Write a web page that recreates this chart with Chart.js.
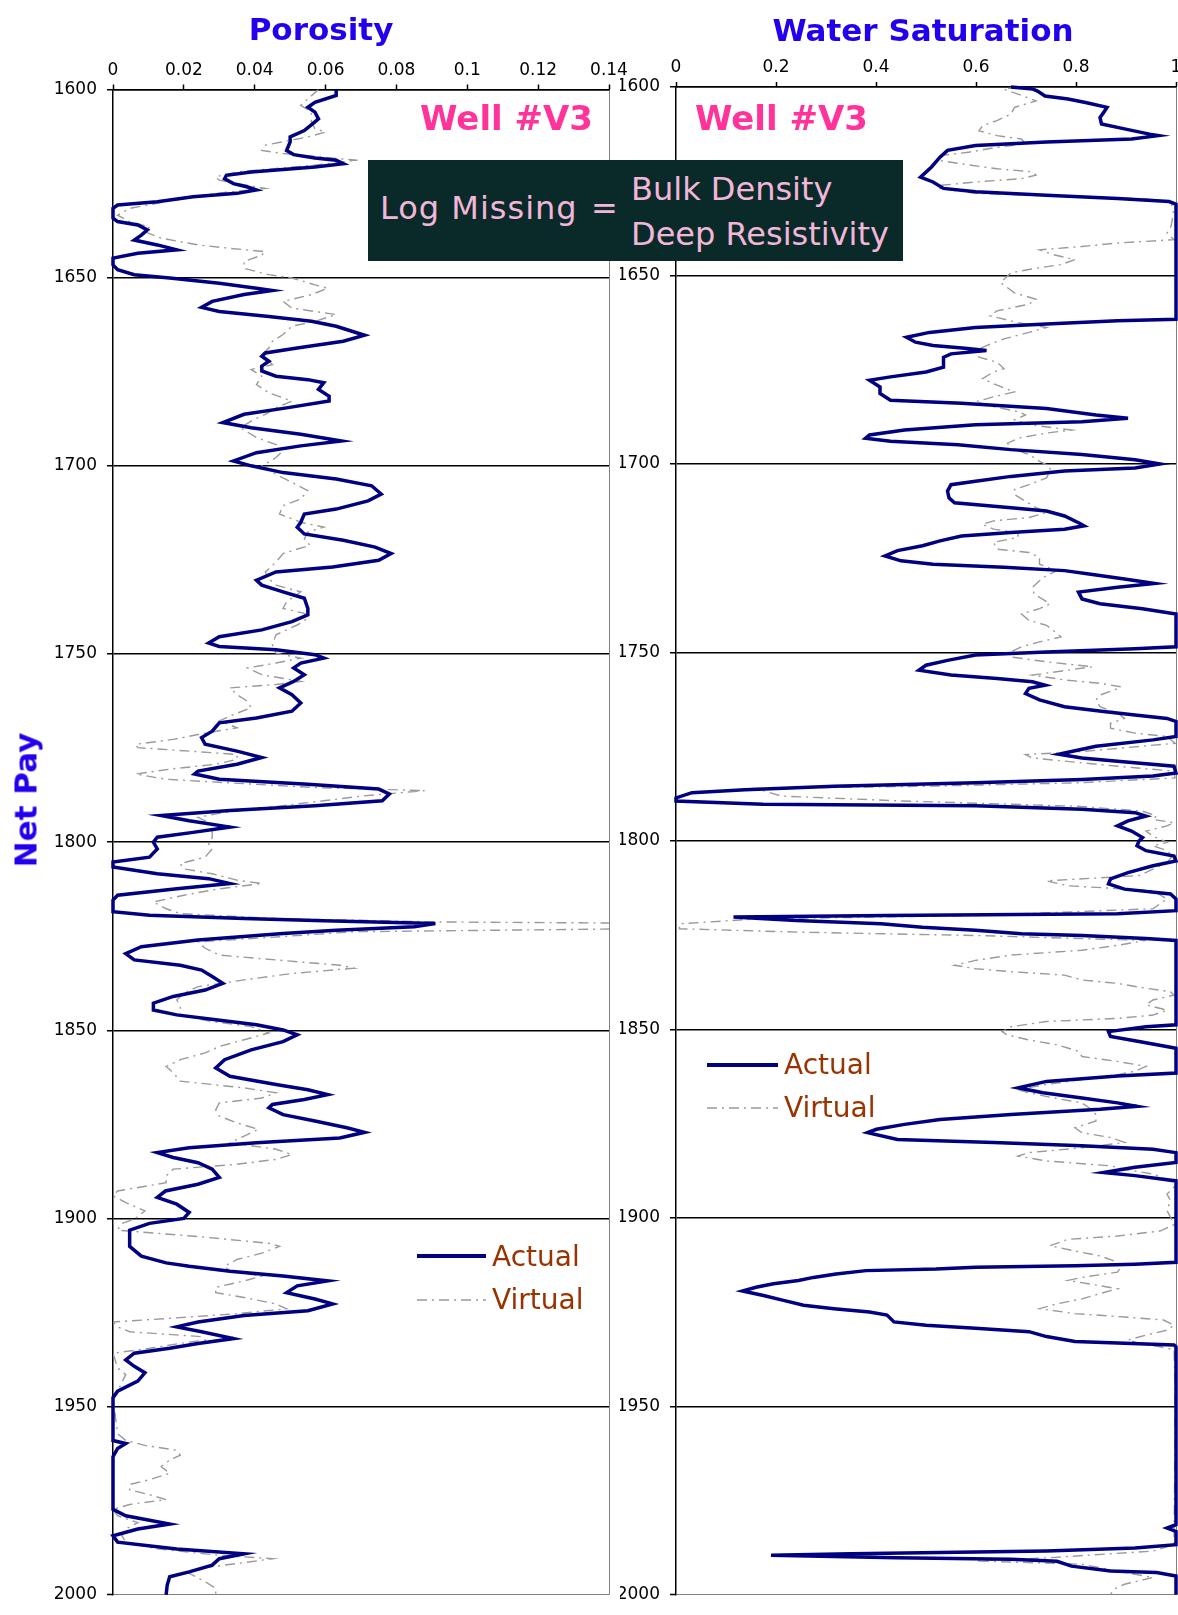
<!DOCTYPE html>
<html>
<head>
<meta charset="utf-8">
<title>Net Pay - Porosity / Water Saturation</title>
<script src="https://cdn.jsdelivr.net/npm/chart.js@4.4.1/dist/chart.umd.min.js"></script>
<style>
  html, body { margin: 0; padding: 0; background: #fff; }
  body {
    width: 1178px; height: 1615px; position: relative; overflow: hidden;
    font-family: "DejaVu Sans", sans-serif;
  }
  canvas { position: absolute; top: 0; }
  #porosityChart { left: 0; }
  #swChart { left: 620px; }
  .lbl { position: absolute; white-space: nowrap; line-height: 1; }
  .title { font-weight: bold; font-size: 31px; color: #2200ee; }
  .well { font-weight: bold; font-size: 34px; color: #ff3399; }
  .legend { font-size: 28px; color: #993300; }
  .note { font-size: 32px; color: #f2b6d8; }
  #noteBox { position: absolute; left: 368px; top: 160px; width: 535px; height: 101px; background: #0a2a2a; }
  #overlay { position: absolute; left: 0; top: 0; }
</style>
</head>
<body>
<canvas id="porosityChart" width="640" height="1615"></canvas>
<canvas id="swChart" width="600" height="1615"></canvas>

<div class="lbl title" style="left:321px; top:14px; transform:translateX(-50%);">Porosity</div>
<div class="lbl title" style="left:923px; top:15px; transform:translateX(-50%);">Water Saturation</div>
<div class="lbl title" style="left:26px; top:800px; transform:translate(-50%,-50%) rotate(-90deg);">Net Pay</div>

<div class="lbl well" style="right:585px; top:101px;">Well #V3</div>
<div class="lbl well" style="left:695px; top:101px;">Well #V3</div>

<div id="noteBox"></div>
<div class="lbl note" style="left:380px; top:192px; letter-spacing:1px;">Log Missing</div>
<div class="lbl note" style="left:591px; top:192px;">=</div>
<div class="lbl note" style="left:631px; top:173px;">Bulk Density</div>
<div class="lbl note" style="left:631px; top:218px;">Deep Resistivity</div>

<svg id="overlay" width="1178" height="1615">
  <line x1="417" y1="1256" x2="486" y2="1256" stroke="#000080" stroke-width="4"/>
  <line x1="417" y1="1300" x2="486" y2="1300" stroke="#999999" stroke-width="1.5" stroke-dasharray="10 5 2 5"/>
  <line x1="707" y1="1065" x2="778" y2="1065" stroke="#000080" stroke-width="4"/>
  <line x1="707" y1="1108" x2="778" y2="1108" stroke="#999999" stroke-width="1.5" stroke-dasharray="10 5 2 5"/>
</svg>
<div class="lbl legend" style="left:492px; top:1243px;">Actual</div>
<div class="lbl legend" style="left:492px; top:1286px;">Virtual</div>
<div class="lbl legend" style="left:784px; top:1051px;">Actual</div>
<div class="lbl legend" style="left:784px; top:1094px;">Virtual</div>

<script>
// --- Porosity, Actual ---
const porActDepth = [
  1600,1601.6,1603.4,1604.7,1606,1607.8,1608.6,1610.9,1612.6,1613.9,
  1616.2,1617.3,1618.2,1618.8,1619.7,1620.6,1621.9,1622.8,1623.7,1625,
  1625.9,1626.7,1627.6,1628.5,1629.8,1630.7,1631.6,1634.2,1635.1,1636,
  1637.3,1638.7,1640,1641.3,1642.6,1643.5,1644.8,1646.6,1647.9,1649.2,
  1650.1,1651.5,1652.8,1653.4,1654.5,1656.3,1657.9,1659,1660.3,1661.6,
  1662.9,1665.3,1666.9,1668.7,1670,1670.9,1672.2,1673.5,1674.8,1676.2,
  1677.1,1677.9,1679.7,1681.5,1682.8,1684.6,1686.3,1688.5,1689.9,1691.6,
  1693.4,1694.7,1696.5,1698.7,
  1700,1701.8,1703.5,1705.3,1707.5,1709.3,1711.5,1712.8,1715,1716.3,
  1718.1,1719.8,1721.6,1723.3,1725.1,1726.9,1728.2,1730.4,1731.7,1733.5,
  1735.2,1737.9,1739.6,1741.4,1743.6,1745.4,1747.1,1748,1748.9,1750.2,
  1751.1,1752.4,1753.7,1755.5,1757.3,1759,1760.8,1763,1765.2,1767,
  1768.3,1770.5,1772.2,1774,1775.8,1777.5,1779.3,1781.1,1781.9,1783.3,
  1784.6,1785.9,1787.2,1789,1790.3,1791.6,1792.9,1794.3,1796,1797.4,
  1798.7,
  1800,1801.8,1804,1805.3,1806.6,1808.4,1809.7,1811,1812.4,1814.1,
  1815.4,1818.5,1819.4,1820.3,1820.9,1821.6,1822.5,1823.4,1824.3,1825.2,
  1826,1827.8,1829.6,1831.3,1832.7,1834,1835.7,1837.5,1839.3,1841,
  1842.8,1844.6,1845.9,1847.2,1848.5,1849.9,1851.2,1853,1855.2,1857.8,
  1860,1862.2,1864.4,1865.8,1867.1,1868.4,1869.7,1870.6,1872.4,1874.1,
  1875.9,1877.1,1878.6,1879.9,1881.2,1882.5,1883.8,1885.2,1886.9,1889.1,
  1890.9,1892.7,1894.4,1896.2,1898.4,
  1900,1901.3,1903.1,1907.4,1910,1911.8,1912.7,1914,1915.3,1916.6,
  1917.9,1919.7,1921.4,1922.7,1924.5,1925.8,1927.5,1928.8,1930.1,1931.9,
  1933.2,1934.5,1935.8,1937.6,1939.3,1941,1943.2,1945.9,1947.6,1959,
  1959.8,1961.1,1963.3,1977.3,1979,1981.2,1982.5,1984.3,1986,1987.8,
  1989.1,1990.4,1992.1,1993.9,1995.2,1997.4,2000
];
const porActual = [
  .063,.063,.057,.055,.057,.058,.057,.054,.050,.050,
  .049,.051,.057,.063,.065,.057,.039,.032,.0315,.034,
  .038,.0405,.035,.0226,.0125,.0013,0,0,.0013,.007,
  .0097,.008,.006,.0125,.018,.007,0,0,.0013,.006,
  .016,.030,.0405,.045,.037,.028,.025,.030,.044,.056,
  .063,.071,.065,.052,.043,.042,.044,.042,.042,.046,
  .055,.0595,.058,.061,.061,.049,.037,.031,.039,.053,
  .0645,.053,.0405,.034,
  .039,.048,.063,.073,.0757,.072,.063,.054,.053,.052,
  .054,.065,.074,.0785,.075,.062,.046,.0405,.042,.048,
  .054,.055,.055,.0505,.042,.030,.027,.030,.046,.057,
  .0595,.053,.051,.054,.051,.047,.0505,.053,.0505,.0405,
  .030,.028,.025,.026,.035,.042,.035,.024,.023,.030,
  .055,.075,.078,.076,.057,.033,.0136,.0215,.033,.0226,
  .0125,
  .0114,.0125,.0103,0,0,.0125,.027,.033,.018,.0013,
  0,0,.0103,.037,.0595,.091,.085,.063,.048,.035,
  .024,.008,.0036,.006,.019,.025,.028,.031,.026,.017,
  .0114,.0114,.018,.029,.0405,.048,.052,.048,.039,.0315,
  .029,.033,.046,.055,.0606,.054,.045,.044,.048,.057,
  .066,.071,.064,.0405,.0215,.0125,.017,.024,.028,.030,
  .024,.0148,.0125,.018,.0215,
  .020,.0103,.0047,.0047,.008,.015,.0215,.033,.048,.0606,
  .052,.049,.057,.062,.055,.037,.024,.018,.025,.034,
  .024,.016,.006,.0036,.006,.009,.007,.0013,0,0,
  .0036,.0013,0,0,.0036,.016,.007,0,.0013,.018,
  .037,.030,.028,.0215,.016,.0153,.015
];

// --- Porosity, Virtual ---
const porVirDepth = [
  1600,1602.5,1604.2,1606,1608.6,1610.4,1611.3,1612.6,1614.8,1616.2,
  1617,1618.4,1618.8,1620.1,1621.9,1623.2,1624.1,1625.9,1626.3,1627.6,
  1629.8,1631.6,1633.4,1635.1,1636.5,1637.8,1639.5,1641.3,1642.2,1643.1,
  1644,1645.7,1647.5,1649.2,1650.1,1651.9,1652.8,1654.5,1656.3,1658.1,
  1659.8,1661.6,1662.9,1665.1,1666.9,1668.7,1670.4,1673.1,1674.4,1676.2,
  1678.4,1680.6,1682.8,1684.6,1686.3,1688.1,1689.9,1692.5,1694.7,1696,
  1697.8,
  1700,1701.8,1704.4,1706.6,1708.8,1710.6,1712.8,1715,1716.3,1717.6,
  1719.4,1721.1,1723.3,1725.6,1728.2,1730,1731.7,1733.5,1736.1,1737.9,
  1739.2,1740.5,1742.3,1744.9,1747.6,1749.8,1751.1,1752.4,1753.7,1755.5,
  1757.3,1758.1,1759,1760.8,1762.6,1764.3,1766.1,1767.8,1769.6,1771.4,
  1772.7,1774,1774.9,1775.8,1776.7,1778,1779.3,1780.6,1781.9,1783.3,
  1784.1,1785.5,1786.3,1787.7,1789,1790.3,1792.1,1793.4,1795.2,1796.9,
  1798.7,
  1800.4,1801.8,1804,1805.7,1807.1,1808.4,1810.1,1811,1812.4,1814.1,
  1815.9,1817.7,1819,1820.3,1821.2,1821.6,1822.9,1823.8,1825.2,1826.5,
  1828.2,1830,1831.3,1832.7,1833.5,1834.9,1836.6,1838.4,1840.2,1841.9,
  1843.7,1845.9,1847.7,1849,1850.7,1852.5,1854.3,1856,1857.8,1859.6,
  1861.3,1863.5,1865.3,1866.6,1868,1869.3,1871.1,1872.8,1874.6,1876.3,
  1878.1,1879.9,1881.6,1883,1884.3,1885.6,1886.9,1888.7,1890.5,1892.7,
  1894,1895.8,1898,
  1900.2,1901.3,1903.1,1904.8,1906.6,1907.4,1909.2,1910.9,1912.7,1914,
  1915.3,1916.6,1918.3,1919.7,1921,1922.7,1924,1925.3,1926.6,1927.5,
  1928.8,1930.1,1931.4,1932.3,1933.2,1934.5,1935.8,1939.7,1941.5,1945.9,
  1947.6,1957.2,1959,1960.3,1961.6,1962.9,1964.2,1965.9,1967.7,1969.4,
  1970.7,1972.1,1973.4,1974.7,1976,1977.3,1979,1980.8,1982.5,1984.3,
  1986,1987.8,1989.5,1990.4,1991.7,1993,1994.3,1996.5,1998.3,2000
];
const porVirtual = [
  .058,.055,.053,.056,.056,.057,.060,.055,.043,.042,
  .048,.064,.069,.057,.035,.029,.030,.0405,.043,.029,
  .015,.0047,.0013,.0047,.0103,.009,.0136,.024,.033,.043,
  .042,.037,.037,.044,.0505,.057,.0606,.056,.048,.0505,
  .063,.057,.0505,.048,.045,.044,.042,.045,.039,.042,
  .0405,.044,.0505,.046,.043,.039,.036,.0405,.047,.048,
  .046,
  .042,.045,.0505,.055,.053,.048,.047,.053,.0595,.055,
  .054,.0556,.048,.046,.043,.044,.046,.053,.049,.048,
  .054,.055,.052,.046,.045,.046,.053,.046,.038,.042,
  .053,.046,.033,.035,.038,.039,.034,.030,.035,.024,
  .017,.0064,.007,.0215,.035,.035,.029,.016,.0064,.015,
  .030,.057,.088,.0707,.0595,.048,.0315,.024,.028,.028,
  .028,
  .027,.028,.026,.019,.020,.028,.035,.042,.030,.020,
  .0114,.015,.019,.046,.091,.16,.16,.068,.046,.024,
  .026,.030,.046,.064,.068,.0505,.037,.024,.020,.018,
  .019,.019,.028,.039,.044,.037,.030,.026,.019,.015,
  .017,.019,.037,.046,.042,.030,.029,.030,.035,.041,
  .037,.033,.046,.0505,.046,.035,.017,.015,.015,.0013,
  0,.0036,.009,
  .006,.0025,.0013,.024,.044,.047,.042,.035,.0315,.033,
  .042,.037,.029,.029,.037,.046,.049,.035,.015,0,
  .0013,.0047,.025,.026,.019,.0103,0,.0013,.0036,.0013,
  0,.0013,.0036,.009,.018,.019,.016,.0136,.016,.0103,
  .0047,.0047,.0103,.015,.0047,0,.0013,.007,.0036,.0025,
  .0036,.0125,.030,.045,.035,.024,.0215,.026,.029,.029
];

// --- Water saturation, Actual ---
const swActDepth = [
  1600,1600.5,1601.1,1602.4,1603.2,1604.1,1605.4,1606.8,1608.1,1609.8,
  1611.1,1612.5,1612.9,1613.8,1614.6,1615.5,1616.8,1618.6,1621.2,1623.9,
  1625.2,1626.9,1627.8,1628.7,1629.6,1630.4,1631.1,1661.6,1662,1662.9,
  1663.8,1665.1,1666.4,1667.7,1668.6,1669.3,1669.9,1670.8,1671.7,1674.3,
  1675.6,1676.9,1677.8,1679.6,1681.3,1683.1,1683.9,1685.3,1687,1687.9,
  1688.8,1689.6,1691,1692.3,1693.2,1694,1694.9,1696.2,1697.5,1698.9,
  1700,
  1701.1,1701.9,1703.3,1704.6,1705.5,1707.2,1709,1710.3,1711.6,1712.5,
  1713.8,1715.6,1716.4,1717.3,1718.2,1719.1,1720.4,1721.7,1723,1724.4,
  1725.7,1726.6,1727.4,1728.3,1729.2,1730.5,1731.7,1732.7,1734,1735.8,
  1737.1,1738.4,1739.8,1748.5,1749,1749.9,1750.7,1752.1,1753.4,1754.7,
  1756,1756.9,1757.8,1758.7,1759.5,1760.9,1762.6,1764.4,1765.7,1766.6,
  1767.5,1768.3,1772.3,1773.2,1774.9,1776.3,1777,1778,1778.9,1780.2,
  1782,1782.8,1783.7,1784.6,1785.5,1786.4,1787.2,1788.6,1789.4,1790.3,
  1790.7,1791.6,1792.5,1793.4,1794.7,1796,1797.4,1799.1,
  1800,1801.3,1802.6,1804,1805.3,1806.6,1808.4,1810.1,1811.4,1812.8,
  1814.1,1815.4,1818.5,1819.3,1819.8,1820.2,1821.1,1822,1822.9,1823.7,
  1824.6,1825.1,1825.9,1826.4,1848.8,1849.3,1850.6,1851.9,1853.2,1855,
  1861.6,1862.4,1863.8,1865.5,1866.8,1868.2,1869.5,1870.4,1871.2,1872.6,
  1873.9,1875.2,1876.5,1877.4,1879.2,1880,1880.9,1881.8,1882.7,1885.3,
  1886.6,1888,1888.8,1890.2,
  1911.8,1912.3,1912.7,1913.1,1913.6,1914,1914.9,1915.8,1916.6,1917.5,
  1918.4,1919.4,1920.6,1921.9,1923.2,1924.1,1925,1925.8,1927.6,1928.5,
  1929.3,1930.2,1931.5,1932.8,1933.7,1934.2,1981.4,1982.3,1983.2,1986.7,
  1987.6,1988.4,1989.1,1989.5,1990.2,1990.6,1991.1,1992.4,1993.7,1994.1,
  1995,2000
];
const swActual = [
  .67,.713,.723,.738,.784,.819,.862,.855,.848,.851,
  .897,.947,.965,.911,.741,.599,.543,.528,.511,.489,
  .514,.535,.599,.741,.883,.986,1,1,.883,.741,
  .599,.507,.461,.479,.514,.578,.621,.550,.535,.535,
  .500,.429,.387,.408,.408,.429,.571,.741,.840,.904,
  .812,.599,.457,.387,.379,.429,.564,.670,.812,.918,
  .968,
  .918,.777,.670,.599,.550,.543,.546,.557,.670,.741,
  .777,.805,.816,.777,.670,.571,.528,.493,.443,.418,
  .450,.514,.656,.777,.826,.897,.957,.883,.805,.812,
  .848,.933,1,1,.918,.741,.599,.543,.500,.486,
  .550,.642,.713,.738,.706,.699,.727,.777,.855,.918,
  .982,1,1,.954,.840,.791,.766,.812,.883,.996,
  1,.954,.812,.599,.316,.138,.032,0,0,.174,
  .599,.812,.918,.940,.904,.883,.911,.933,
  .926,.922,.940,.996,1,.954,.904,.869,.865,.897,
  .989,1,1,.883,.420,.115,.240,.410,.493,.599,
  .691,.812,.940,1,1,.940,.865,.869,.926,1,
  1,.883,.741,.684,.734,.812,.883,.922,.848,.670,
  .528,.457,.401,.383,.443,.635,.812,.954,1,1,
  .918,.855,.918,1,
  1,.918,.798,.599,.520,.380,.320,.275,.245,.195,
  .160,.133,.175,.215,.255,.316,.387,.422,.436,.500,
  .599,.706,.741,.798,.996,1,1,.982,1,1,
  .918,.741,.350,.190,.440,.670,.762,.791,.869,.961,
  1,1
];

// --- Water saturation, Virtual ---
const swVirDepth = [
  1600,1600.6,1601.9,1603.7,1605.4,1607.2,1608.9,1610.3,1611.6,1612.9,
  1613.8,1615.1,1616,1617.3,1618.2,1619.5,1620.4,1621.7,1622.5,1623.4,
  1624.3,1625.2,1626.1,1626.9,1628.2,1629.1,1629.7,1630.4,1633.5,1637,
  1638.8,1640.5,1641.4,1642.3,1643.2,1644.5,1645.8,1647.1,1648.4,1649.3,
  1651.9,1654.6,1656.3,1657.6,1659.4,1660.7,1662.5,1663.8,1665.1,1666.8,
  1668.6,1669.9,1671.7,1673,1674.7,1675.6,1677.4,1679.1,1680.9,1682.2,
  1683.5,1684.8,1686.1,1687,1688.3,1689.6,1691,1691.8,1693.2,1694.5,
  1695.8,1697.5,1699.3,
  1700.6,1701.9,1703.7,1705.5,1706.8,1708.1,1709.9,1711.6,1712.9,1714.2,
  1715.1,1716,1717.3,1718.2,1719.5,1720.8,1722.6,1723.5,1724.8,1726.6,
  1728.3,1729.6,1731,1732.7,1734.5,1737.1,1738.4,1739.8,1741.5,1742.8,
  1744.2,1745.9,1747.2,1748.5,1750.3,1751.2,1752.5,1753.8,1754.7,1756,
  1757.3,1758.2,1759.1,1760,1761.3,1762.6,1764.4,1766.1,1767.5,1768.8,
  1770.1,1771.4,1772.3,1774.1,1776.3,1777.1,1778,1779.3,1780.6,1781.5,
  1783.3,1784.6,1785.5,1786.1,1788.1,1789.4,1790.8,1792.1,1793.4,1794.3,
  1795.2,1796,1797.4,1798.7,
  1800.4,1801.3,1802.6,1804,1805.7,1807.5,1809.2,1810.6,1811.9,1813.2,
  1815.4,1818,1819.8,1820.7,1822,1823.3,1824.2,1825.1,1826.4,1827.7,
  1829,1830.3,1831.7,1833,1833.9,1834.7,1835.6,1836.9,1837.8,1839.1,
  1840,1840.9,1842.2,1843.5,1844.9,1846.2,1847.1,1847.9,1849.3,1850.6,
  1851.5,1852.8,1854.1,1855.8,1857.2,1858.5,1859.8,1861.1,1862,1863.3,
  1864.6,1866,1866.8,1868.2,1869.5,1870.8,1872.6,1874.3,1876.1,1877.4,
  1878.7,1880,1881.4,1882.7,1883.6,1884.9,1886.2,1887.1,1888.4,1890.2,
  1891.9,1893.7,1895.4,1898.1,1899.8,
  1901.8,1903.5,1904.8,1905.7,1907.4,1908.8,1910.1,1911.4,1913.1,1914.4,
  1915.8,1916.6,1918,1918.8,1920.1,1921.5,1922.8,1924.1,1925.4,1926.3,
  1927.1,1928.5,1929.8,1931.1,1932.4,1933.3,1934.2,1935,1942.9,1960.4,
  1986.7,1988.4,1990.2,1991,1991.9,1993.7,1995.4,1997.2,1998.5,2000
];
const swVirtual = [
  .684,.656,.684,.720,.677,.670,.642,.613,.606,.642,
  .691,.699,.642,.585,.528,.528,.571,.642,.713,.720,
  .691,.599,.528,.525,.599,.812,.940,.990,.995,.990,
  .982,.996,.883,.812,.727,.755,.798,.770,.706,.670,
  .649,.677,.720,.706,.642,.628,.684,.741,.706,.656,
  .621,.599,.606,.642,.656,.635,.613,.642,.677,.635,
  .599,.635,.684,.699,.677,.706,.791,.741,.684,.663,
  .670,.706,.727,
  .748,.748,.741,.706,.677,.677,.699,.720,.741,.706,
  .635,.613,.635,.684,.684,.635,.642,.706,.727,.727,
  .762,.741,.727,.713,.716,.748,.727,.691,.706,.741,
  .755,.770,.727,.691,.663,.670,.741,.833,.784,.713,
  .777,.848,.890,.876,.848,.840,.848,.883,.897,.869,
  .869,.918,.982,.998,.812,.699,.713,.812,.918,.996,
  .998,.80,.50,.16,.21,.45,.80,.933,.961,.954,
  .996,.982,.940,.954,
  .982,.954,.982,.993,.982,.954,.926,.741,.784,.954,
  .982,.954,.60,.16,.007,.007,.245,.60,.940,.883,
  .812,.670,.599,.557,.599,.670,.777,.812,.883,.940,
  .989,.996,.954,.940,.982,.954,.883,.741,.670,.652,
  .663,.706,.762,.805,.812,.883,.940,.918,.883,.812,
  .741,.684,.706,.755,.812,.826,.840,.840,.798,.812,
  .869,.897,.812,.706,.684,.741,.869,.897,.954,.989,
  .996,.982,.989,.982,.989,
  .996,.968,.883,.784,.748,.798,.848,.876,.890,.883,
  .812,.784,.848,.883,.848,.812,.762,.727,.798,.897,
  .975,.996,.982,.940,.904,.926,.968,.996,.998,.998,
  .996,.954,.741,.60,.812,.883,.954,.897,.876,.869
];

// --- Axes ---
const depthTicks = [1600, 1650, 1700, 1750, 1800, 1850, 1900, 1950, 2000];
const porosityTicks = [0, 0.02, 0.04, 0.06, 0.08, 0.1, 0.12, 0.14];
const swTicks = [0, 0.2, 0.4, 0.6, 0.8, 1];

Chart.defaults.animation = false;
Chart.defaults.font.family = '"DejaVu Sans", sans-serif';
Chart.defaults.font.size = 17;
Chart.defaults.color = '#000';

function toPoints(depths, values) {
  return depths.map((d, i) => ({ x: values[i], y: d }));
}

function buildLogChart(id, s) {
  const ctx = document.getElementById(id).getContext('2d');
  const xMax = s.xTicks[s.xTicks.length - 1];
  const yMax = depthTicks[depthTicks.length - 1];
  return new Chart(ctx, {
    type: 'scatter',
    data: {
      datasets: [
        {
          label: 'Actual',
          data: toPoints(s.actDepth, s.actVal),
          showLine: true,
          borderColor: '#000080',
          borderWidth: 3.5,
          pointRadius: 0,
          clip: 3
        },
        {
          label: 'Virtual',
          data: toPoints(s.virDepth, s.virVal),
          showLine: true,
          borderColor: '#9a9a9a',
          borderWidth: 1.4,
          borderDash: [10, 5, 2, 5],
          pointRadius: 0,
          clip: 0
        }
      ]
    },
    options: {
      responsive: false,
      animation: false,
      events: [],
      layout: { autoPadding: false, padding: s.padding },
      plugins: { legend: { display: false }, tooltip: { enabled: false } },
      scales: {
        x: {
          type: 'linear',
          position: 'top',
          min: s.xTicks[0],
          max: xMax,
          afterFit: (scale) => { scale.height = s.axisTop; },
          afterBuildTicks: (scale) => { scale.ticks = s.xTicks.map(v => ({ value: v })); },
          border: { display: true, color: '#000', width: 1.5 },
          grid: {
            drawOnChartArea: true,
            color: (c) => (c.tick && Math.abs(c.tick.value - xMax) < 1e-9) ? '#808080' : 'rgba(0,0,0,0)',
            lineWidth: 1,
            tickColor: '#000',
            tickLength: 5,
            tickWidth: 1.5
          },
          ticks: {
            autoSkip: false,
            maxRotation: 0,
            padding: 4,
            callback: (v) => String(parseFloat(Number(v).toFixed(3)))
          }
        },
        y: {
          type: 'linear',
          reverse: true,
          min: depthTicks[0],
          max: yMax,
          afterFit: (scale) => { scale.width = s.axisLeft; },
          afterBuildTicks: (scale) => { scale.ticks = depthTicks.map(v => ({ value: v })); },
          border: { display: true, color: '#000', width: 1.5 },
          grid: {
            color: (c) => (c.tick && c.tick.value === yMax) ? '#808080' : '#000',
            lineWidth: (c) => (c.tick && c.tick.value === yMax) ? 1 : 1.5,
            tickColor: '#000',
            tickLength: 6,
            tickWidth: 1.5
          },
          ticks: {
            autoSkip: false,
            padding: 10,
            callback: (v) => String(v)
          }
        }
      }
    }
  });
}

buildLogChart('porosityChart', {
  actDepth: porActDepth, actVal: porActual,
  virDepth: porVirDepth, virVal: porVirtual,
  xTicks: porosityTicks,
  axisLeft: 113, axisTop: 89.5,
  padding: { left: 0, right: 31, top: 0, bottom: 9 }
});

buildLogChart('swChart', {
  actDepth: swActDepth, actVal: swActual,
  virDepth: swVirDepth, virVal: swVirtual,
  xTicks: swTicks,
  axisLeft: 56, axisTop: 87,
  padding: { left: 0, right: 44, top: 0, bottom: 11 }
});
</script>
</body>
</html>
